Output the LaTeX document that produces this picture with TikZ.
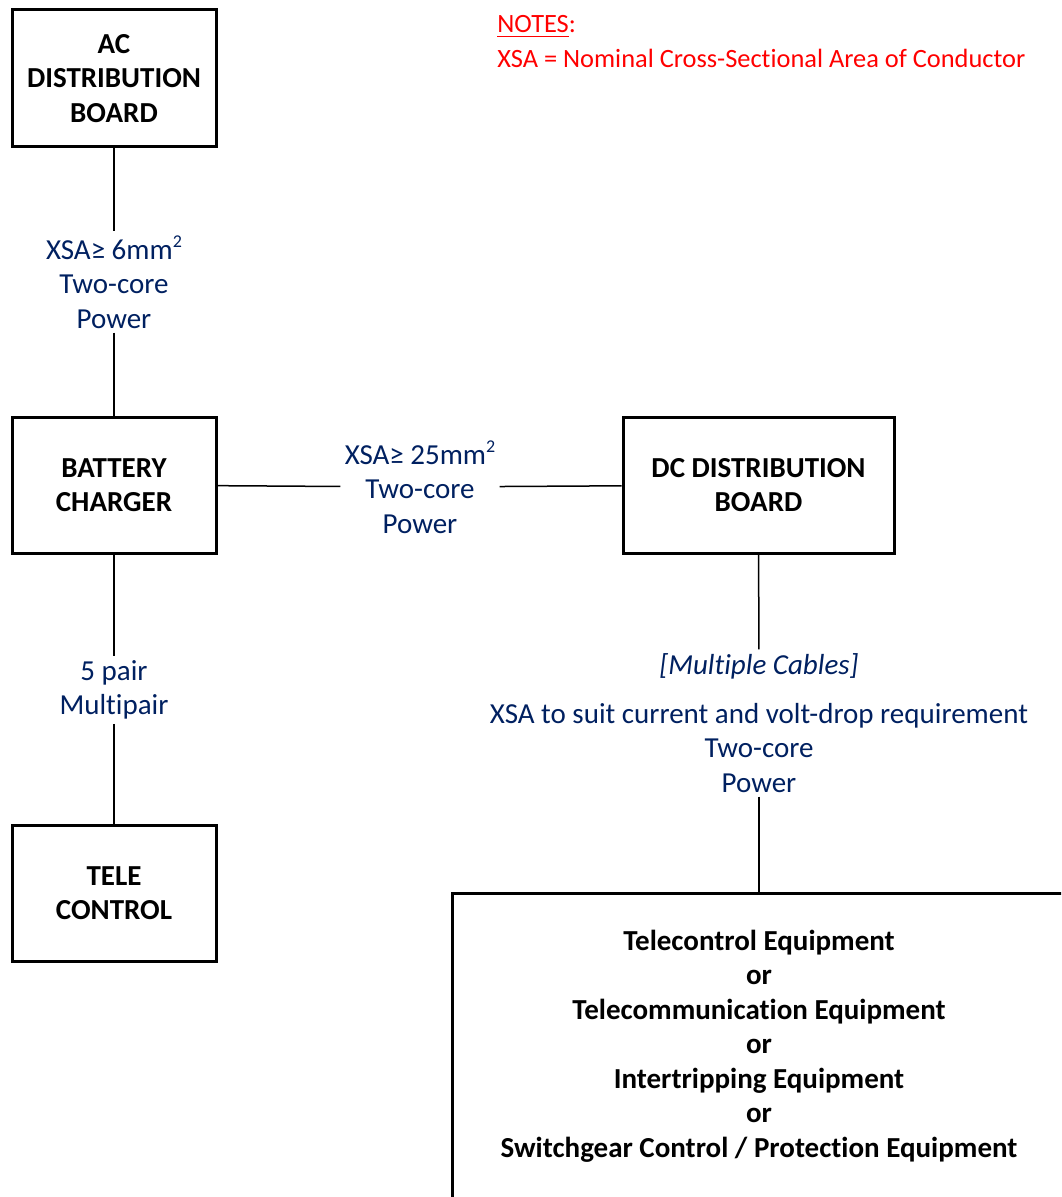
\documentclass[tikz,border=0pt]{standalone}
\usepackage{fontspec}
\setmainfont[Ligatures=NoCommon]{Carlito}
\definecolor{cablenavy}{RGB}{0,32,96}
\definecolor{notered}{RGB}{255,0,0}
\newcommand{\sqmm}{mm\raisebox{0.85ex}{\fontsize{9}{9}\selectfont 2}}
\tikzset{
  unitbox/.style={draw, line width=1.5pt, align=center, font=\bfseries\fontsize{14.5}{17.25}\selectfont, inner sep=0pt},
  cable/.style={text=cablenavy, align=center, inner sep=2pt},
}
\begin{document}
\begin{tikzpicture}[x=0.5pt, y=-0.5pt, font=\fontsize{14.5}{17.25}\selectfont]

      \clip (0,0) rectangle (1061,1197);
      \useasboundingbox (0,0) rectangle (1061,1197);

      \begin{scope}[every node/.style={unitbox}]
        \node[minimum width=102pt, minimum height=68.5pt] (ac) at (114,78.5) {AC\\DISTRIBUTION\\BOARD};
        \node[minimum width=102pt, minimum height=68pt] (bc) at (114,485) {BATTERY\\CHARGER};
        \node[minimum width=135.5pt, minimum height=68pt] (dc) at (758.5,485) {DC DISTRIBUTION\\BOARD};
        \node[minimum width=102pt, minimum height=68pt] (tc) at (114,893) {TELE\\CONTROL};
        \node[minimum width=307pt, minimum height=153pt] (eq) at (759,1046)
          {Telecontrol Equipment\\or\\Telecommunication Equipment\\or\\Intertripping Equipment\\or\\Switchgear Control / Protection Equipment};
      \end{scope}

      \begin{scope}[every node/.style={cable}]
        \node (c1) at (114,282) {XSA≥ 6\sqmm\\Two-core\\Power};
        \node (c2) at (420,487) {XSA≥ 25\sqmm\\Two-core\\Power};
        \node (c3) at (114,690) {5 pair\\Multipair};
        \node (c4) at (759,723) {\textit{[Multiple Cables]}\\[7pt]XSA to suit current and volt-drop requirement\\Two-core\\Power};
      \end{scope}

      \node[text=notered, align=left, anchor=west, inner sep=0pt, font=\fontsize{13.2}{17.5}\selectfont] (notes) at (497,42)
        {\underline{NOTES}:\\XSA = Nominal Cross-Sectional Area of Conductor};

      \begin{scope}[every edge/.style={draw, line width=0.75pt}]
        \path (ac) edge (c1);
        \path (c1) edge (bc);
        \path (bc) edge (c2);
        \path (c2) edge (dc);
        \path (bc) edge (c3);
        \path (c3) edge (tc);
        \path (dc) edge (c4);
        \path (c4) edge (eq);
      \end{scope}

    \end{tikzpicture}
\end{document}
